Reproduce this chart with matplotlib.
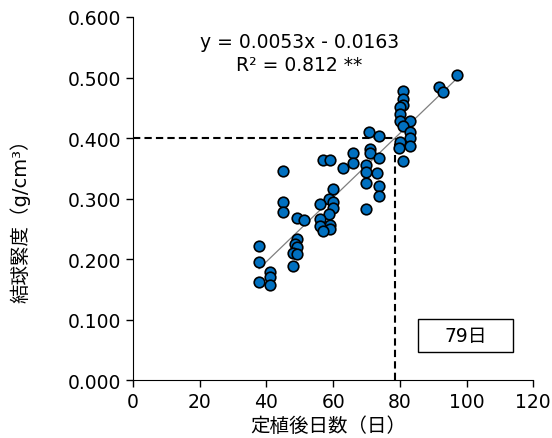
import numpy as np
import matplotlib.pyplot as plt
from matplotlib.patches import Rectangle

plt.rcParams['font.family'] = ['DejaVu Sans', 'Noto Sans CJK JP']

# 定植後日数, 結球緊度
days = [37.8, 37.8, 37.8, 41.1, 41.1, 41.1,
        45.0, 45.0, 45.0, 49.2, 51.3, 49.2, 48.6, 49.2, 48.0, 49.2, 48.0,
        57.0, 59.1, 60.0, 58.8, 60.0, 56.1, 60.0, 58.8, 56.1, 59.1, 56.1, 59.1, 57.0,
        63.0, 66.0, 66.0,
        70.8, 73.8, 71.1, 71.1, 73.8, 69.9, 69.9, 73.2, 69.9, 73.8, 73.8, 69.9,
        81.0, 81.0, 81.0, 80.1, 80.1, 80.1, 83.0, 81.0, 83.0, 83.0, 80.1, 83.0, 79.8, 81.0,
        97.0, 91.8, 93.0]
density = [0.221, 0.195, 0.162, 0.179, 0.170, 0.157,
           0.345, 0.294, 0.278, 0.268, 0.264, 0.233, 0.225, 0.220, 0.210, 0.208, 0.188,
           0.364, 0.364, 0.316, 0.299, 0.294, 0.291, 0.284, 0.274, 0.266, 0.256, 0.255, 0.250, 0.246,
           0.350, 0.375, 0.359,
           0.410, 0.403, 0.382, 0.375, 0.367, 0.355, 0.344, 0.342, 0.326, 0.321, 0.304, 0.283,
           0.478, 0.464, 0.455, 0.451, 0.440, 0.428, 0.428, 0.420, 0.410, 0.400, 0.393, 0.387, 0.383, 0.362,
           0.504, 0.484, 0.476]

slope, intercept = 0.0053, -0.0163
target = 0.4
x_target = (target - intercept) / slope

fig = plt.figure(figsize=(5.52, 4.39), dpi=100)
ax = fig.add_axes([0.241, 0.132, 0.725, 0.827])

xl = np.array([min(days), max(days)])
ax.plot(xl, slope * xl + intercept, color='#7f7f7f', lw=0.9, zorder=2)

# 0.400 の目安線
ax.plot([0, x_target], [target, target], color='black', ls=(0, (3.5, 2)), lw=1.5, zorder=1)
ax.plot([x_target, x_target], [0, target], color='black', ls=(0, (3.5, 2)), lw=1.5, zorder=1)

ax.scatter(days, density, s=58, c='#0070C0', edgecolors='black', linewidths=1.2, zorder=3)

ax.text(49.8, 0.560, 'y = 0.0053x - 0.0163', ha='center', va='center', fontsize=13.5)
ax.text(49.8, 0.521, 'R² = 0.812 **', ha='center', va='center', fontsize=13.5)

ax.add_patch(Rectangle((85.5, 0.046), 28.5, 0.0545, fc='white', ec='black', lw=1.0, zorder=4))
ax.text(99.7, 0.073, '79日', ha='center', va='center', fontsize=13.5, zorder=5)

ax.set_xlim(0, 120)
ax.set_ylim(0, 0.6)
ax.set_xticks(np.arange(0, 121, 20))
yt = np.arange(0, 0.61, 0.1)
ax.set_yticks(yt)
ax.set_yticklabels([f'{v:.3f}' for v in yt])
ax.tick_params(direction='out', length=5, labelsize=13.5, width=1)
ax.spines['top'].set_visible(False)
ax.spines['right'].set_visible(False)

ax.set_xlabel('定植後日数（日）', fontsize=14)
ax.xaxis.set_label_coords(0.487, -0.098)
ax.set_ylabel('結球緊度（g/cm³）', fontsize=14)
ax.yaxis.set_label_coords(-0.255, 0.455)

fig.savefig('out.png', dpi=100)
